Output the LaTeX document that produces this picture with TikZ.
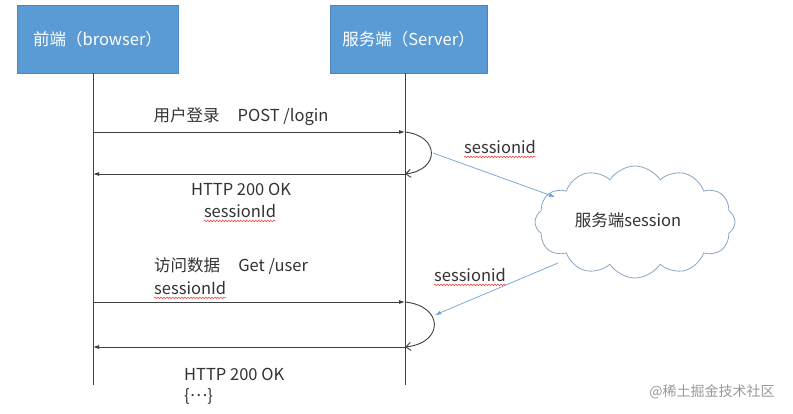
\documentclass[tikz,border=0pt]{standalone}
\usepackage{fontspec}
\setmainfont{Noto Sans CJK SC}
\usetikzlibrary{arrows.meta,shapes.symbols,decorations.pathmorphing}
\definecolor{boxfill}{HTML}{5B9BD5}
\definecolor{boxline}{HTML}{4A86C0}
\definecolor{cloudline}{HTML}{8AA6C6}
\definecolor{txt}{HTML}{333333}
\definecolor{blueline}{HTML}{6AA4D8}
\begin{document}
\begin{tikzpicture}[x=1pt,y=-1pt,
  actor/.style={draw=boxline,fill=boxfill,text=white,font=\fontsize{16.5}{19}\selectfont,inner sep=0pt},
  lifeline/.style={draw=black!75,line width=0.8pt},
  msg/.style={draw=black!75,line width=0.8pt,-{Latex[length=6pt,width=4pt]}},
  selfloop/.style={draw=black!75,line width=0.9pt,-{Straight Barb[length=5pt,width=8pt]}},
  bluearrow/.style={draw=blueline,line width=0.7pt,-{Latex[length=6pt,width=4pt]}},
  lbl/.style={text=txt,font=\fontsize{16.5}{19}\selectfont,inner sep=0pt},
  squig/.style={draw=red!80,line width=0.5pt,decorate,decoration={snake,amplitude=0.8pt,segment length=3pt}}
]
\useasboundingbox (0,0) rectangle (793,414);
\fill[white] (0,0) rectangle (793,414);

% actors
\node[actor,minimum width=161pt,minimum height=68pt] (fe) at (97.5,39) {前端（browser）};
\node[actor,minimum width=157pt,minimum height=68pt] (be) at (408.5,39) {服务端（Server）};

% lifelines
\coordinate (fa) at (93,73);
\coordinate (fb) at (93,385);
\coordinate (ba) at (405,73);
\coordinate (bb) at (405,385);
\draw[lifeline] (fa) -- (fb);
\draw[lifeline] (ba) -- (bb);

% message points
\coordinate (l1) at (93,132);
\coordinate (r1) at (405,132);
\coordinate (r2) at (405,174);
\coordinate (l2) at (93,174);
\coordinate (l3) at (93,302);
\coordinate (r3) at (405,302);
\coordinate (r4) at (405,347);
\coordinate (l4) at (93,347);

\draw[msg] (l1) -- (r1);
\draw[selfloop] (r1) .. controls (440,136) and (440,170) .. (r2);
\draw[msg] (r2) -- (l2);

\draw[msg] (l3) -- (r3);
\draw[selfloop] (r3) .. controls (444,306) and (444,343) .. (r4);
\draw[msg] (r4) -- (l4);

% labels
\node[lbl] (m1) at (241,117) {用户登录\hspace{1.1em}POST /login};
\node[lbl] (h1) at (241,189) {HTTP 200 OK};
\node[lbl] (s1) at (240,211) {sessionId};
\draw[squig] ([yshift=-3pt]s1.south west) -- ([yshift=-3pt]s1.south east);

\node[lbl,anchor=west] (m2) at (154,266) {访问数据\hspace{1.1em}Get /user};
\node[lbl,anchor=west] (s2) at (154,288) {sessionId};
\draw[squig] ([yshift=-3pt]s2.south west) -- ([yshift=-3pt]s2.south east);
\node[lbl,anchor=west] (h2) at (184,374) {HTTP 200 OK};
\node[lbl,anchor=west] (b2) at (184,396) {\{\raisebox{0.28em}{…}\}};

% cloud
\node[cloud,cloud puffs=12,cloud puff arc=115,aspect=1.8,draw=cloudline,line width=0.8pt,fill=white,
      minimum width=200pt,minimum height=112pt,inner sep=0pt] (cl) at (635,222) {};
\node[lbl] (clt) at (628,220) {服务端session};

\coordinate (p1) at (433,153);
\coordinate (q1) at (555,197);
\coordinate (q2) at (558,263);
\coordinate (p2) at (435,315);
\draw[bluearrow] (p1) -- (q1);
\draw[bluearrow] (q2) -- (p2);

\node[lbl] (sid1) at (500,147) {sessionid};
\draw[squig] ([yshift=-3pt]sid1.south west) -- ([yshift=-3pt]sid1.south east);
\node[lbl] (sid2) at (470,275) {sessionid};
\draw[squig] ([yshift=-3pt]sid2.south west) -- ([yshift=-3pt]sid2.south east);

% watermark
\node[text=black!40,font=\fontsize{14}{16}\selectfont,inner sep=0pt] (wm) at (712,392) {@稀土掘金技术社区};
\end{tikzpicture}
\end{document}
